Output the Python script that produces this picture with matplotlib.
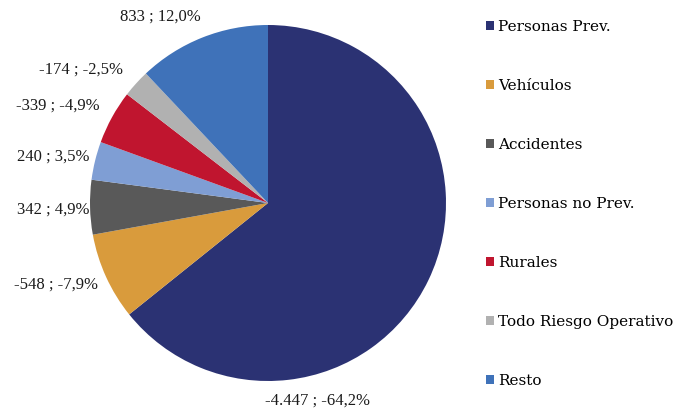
import matplotlib
matplotlib.use("Agg")
import matplotlib.pyplot as plt
from matplotlib.patches import Patch

categories = ["Personas Prev.", "Vehículos", "Accidentes", "Personas no Prev.",
              "Rurales", "Todo Riesgo Operativo", "Resto"]
values = [-4447, -548, 342, 240, -339, -174, 833]
percents = [-64.2, -7.9, 4.9, 3.5, -4.9, -2.5, 12.0]
colors = ["#2B3273", "#D99B3C", "#595959", "#7F9ED4", "#C0152F", "#B1B1B1", "#3F72B9"]

# label anchor positions (axes data units, pie radius = 1) and alignment
label_pos = [(0.28, -1.108), (-0.955, -0.46), (-1.005, -0.04), (-1.005, 0.26),
             (-0.945, 0.545), (-0.815, 0.747), (-0.607, 1.045)]
label_ha = ["center", "right", "right", "right", "right", "right", "center"]


def fmt_num(v):
    s = f"{abs(v):,}".replace(",", ".")
    return ("-" if v < 0 else "") + s


def fmt_pct(p):
    return f"{p:.1f}".replace(".", ",") + "%"


plt.rcParams["font.family"] = ["Liberation Serif", "DejaVu Serif"]

fig = plt.figure(figsize=(6.91, 4.12), dpi=100)
cx, cy, r = 268, 412 - 203, 178
ax = fig.add_axes([(cx - r) / 691, (cy - r) / 412, 2 * r / 691, 2 * r / 412])
sizes = [abs(v) for v in values]
wedges, _ = ax.pie(sizes, colors=colors, startangle=90, counterclock=False,
                   radius=1, wedgeprops=dict(linewidth=0))
ax.set_xlim(-1, 1)
ax.set_ylim(-1, 1)
ax.set_aspect("equal")

for v, p, (x, y), ha in zip(values, percents, label_pos, label_ha):
    ax.text(x, y, f"{fmt_num(v)} ; {fmt_pct(p)}", ha=ha, va="center",
            fontsize=12, color="#1a1a1a", clip_on=False)

handles = [Patch(facecolor=c, edgecolor="none") for c in colors]
fig.legend(handles, categories, loc="upper left", bbox_to_anchor=(480 / 691, 1 - 14 / 412),
           frameon=False, handlelength=0.5, handleheight=0.5,
           handletextpad=0.3, labelspacing=2.945, borderaxespad=0,
           prop=dict(family="DejaVu Serif", size=11))

fig.savefig("out.png", dpi=100)
